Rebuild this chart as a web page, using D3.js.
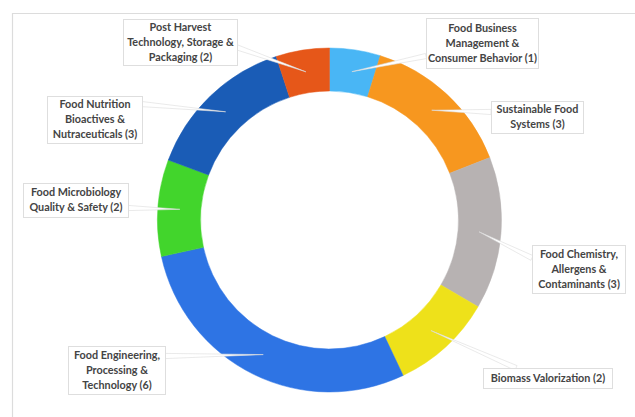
<!DOCTYPE html>
<html>
<head>
<meta charset="utf-8">
<script src="https://cdn.jsdelivr.net/npm/d3@7"></script>
<style>
  html, body { margin: 0; padding: 0; background: #fff; }
  svg { display: block; }
  text { font-family: Lato, "Open Sans", sans-serif; font-weight: 700; fill: #444444; }
</style>
</head>
<body>
<svg id="chart" width="635" height="417"></svg>
<script>
// ---- data ----
const categories = [
  "Food Business Management & Consumer Behavior",
  "Sustainable Food Systems",
  "Food Chemistry, Allergens & Contaminants",
  "Biomass Valorization",
  "Food Engineering, Processing & Technology",
  "Food Microbiology Quality & Safety",
  "Food Nutrition Bioactives & Nutraceuticals",
  "Post Harvest Technology, Storage & Packaging"
];
const counts = [1, 3, 3, 2, 6, 2, 3, 2];          // numbers shown in labels
const sliceValues = [1, 3, 3, 2, 6, 1.9, 3, 1.05]; // slice sizes as read from the ring
const labelLines = [
  ["Food Business", "Management &", "Consumer Behavior (1)"],
  ["Sustainable Food", "Systems (3)"],
  ["Food Chemistry,", "Allergens &", "Contaminants (3)"],
  ["Biomass Valorization (2)"],
  ["Food Engineering,", "Processing &", "Technology (6)"],
  ["Food Microbiology", "Quality & Safety (2)"],
  ["Food Nutrition", "Bioactives &", "Nutraceuticals (3)"],
  ["Post Harvest", "Technology, Storage &", "Packaging (2)"]
];
const colors = ["#49b6f5", "#f7971f", "#b7b2b2", "#eee11a", "#2e74e4", "#42d52c", "#1a5cb6", "#e65719"];

// label box layout: [left, top, width, height] and callout base point
const boxes = [
  {x: 426, y: 18, w: 112, h: 50, bx: 426, by: 56},
  {x: 491, y: 101, w: 92, h: 32, bx: 491, by: 112},
  {x: 532, y: 245, w: 93, h: 48, bx: 532, by: 258},
  {x: 483, y: 368, w: 129, h: 20, bx: 516, by: 368},
  {x: 68, y: 346, w: 97, h: 48, bx: 165, by: 356},
  {x: 23, y: 183, w: 105, h: 34, bx: 128, by: 208},
  {x: 47, y: 96, w: 95, h: 47, bx: 141, by: 104},
  {x: 123, y: 19, w: 114, h: 46, bx: 236, by: 47}
];

const svg = d3.select("#chart");
const cx = 329.5, cy = 220, rOuter = 172, rInner = 129;

// frame lines
svg.append("line").attr("x1", 12).attr("x2", 635).attr("y1", 13.5).attr("y2", 13.5)
  .attr("stroke", "#dcdcdc").attr("stroke-width", 1.2);
svg.append("line").attr("x1", 12.5).attr("x2", 12.5).attr("y1", 13).attr("y2", 417)
  .attr("stroke", "#dcdcdc").attr("stroke-width", 1.2);

const data = categories.map((c, i) => ({cat: c, value: sliceValues[i], count: counts[i], i}));
const pie = d3.pie().value(d => d.value).sort(null);
const arcs = pie(data);
const arc = d3.arc().innerRadius(rInner).outerRadius(rOuter);
const midArc = d3.arc().innerRadius(150).outerRadius(150);

const g = svg.append("g").attr("transform", `translate(${cx},${cy})`);
g.selectAll("path.slice").data(arcs).enter().append("path")
  .attr("class", "slice")
  .attr("d", arc)
  .attr("fill", d => colors[d.data.i])
  .attr("stroke", d => colors[d.data.i])
  .attr("stroke-width", 0.5);

// callout wedges
arcs.forEach((a, i) => {
  const [tx, ty] = midArc.centroid(a);
  const tipX = cx + tx, tipY = cy + ty;
  const b = boxes[i];
  const dx = tipX - b.bx, dy = tipY - b.by;
  const len = Math.hypot(dx, dy);
  const nx = -dy / len * 2.6, ny = dx / len * 2.6;
  svg.append("path")
    .attr("d", `M${b.bx + nx},${b.by + ny} L${tipX},${tipY} L${b.bx - nx},${b.by - ny} Z`)
    .attr("fill", "#ffffff")
    .attr("stroke", "#dcdcdc")
    .attr("stroke-width", 0.6);
});

// label boxes
const lg = svg.append("g");
boxes.forEach((b, i) => {
  lg.append("rect").attr("x", b.x + 0.5).attr("y", b.y + 0.5).attr("width", b.w).attr("height", b.h)
    .attr("fill", "#ffffff").attr("stroke", "#dedede").attr("stroke-width", 1);
  const lines = labelLines[i];
  const lh = 15;
  const startY = b.y + b.h / 2 - (lines.length - 1) * lh / 2 + 3.8;
  const t = lg.append("text").attr("text-anchor", "middle").attr("font-size", 10.8);
  lines.forEach((ln, k) => {
    t.append("tspan").attr("x", b.x + b.w / 2 + 0.5).attr("y", startY + k * lh).text(ln);
  });
});
</script>
</body>
</html>
